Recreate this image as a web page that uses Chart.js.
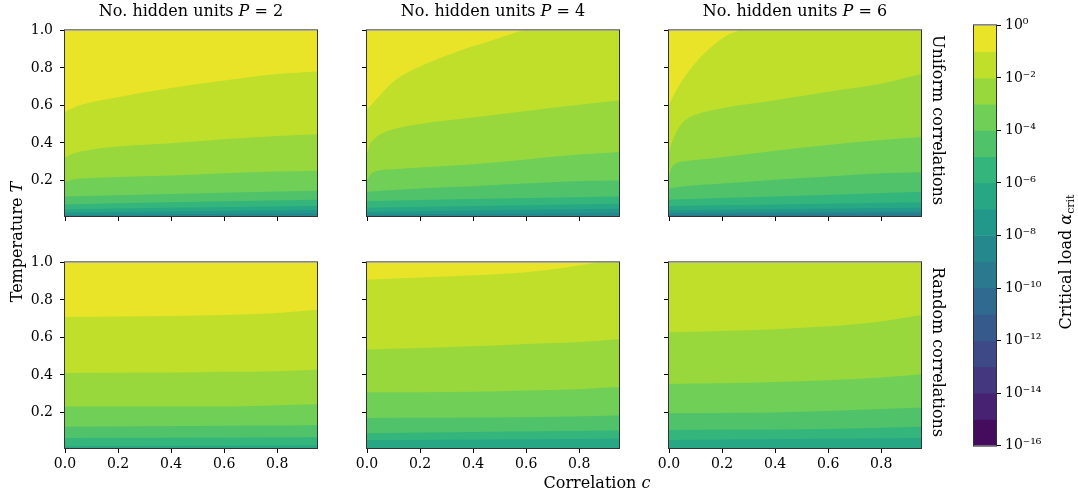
<!DOCTYPE html>
<html>
<head>
<meta charset="utf-8">
<script src="https://cdn.jsdelivr.net/npm/chart.js@4.4.1/dist/chart.umd.min.js"></script>
<style>
html, body { margin: 0; padding: 0; background: #fff; }
#fig { position: relative; width: 1078px; height: 498px; overflow: hidden;
       font-family: 'DejaVu Serif', serif; font-size: 16px; color: #000; }
canvas { position: absolute; }
.lbl { position: absolute; white-space: nowrap; text-align: center; line-height: 20px; height: 20px; }
.lbl sub { font-size: 11px; vertical-align: -3px; line-height: 0; }
</style>
</head>
<body>
<div id="fig"></div>
<script>
// axes
const cTicks = [0, 0.2, 0.4, 0.6, 0.8];
const tTicks = [0.2, 0.4, 0.6, 0.8, 1.0];
const cRange = [0, 0.95];
const tRange = [0.01, 1.0];
const hiddenUnits = [2, 4, 6];
const rowNames = ['Uniform correlations', 'Random correlations'];

// colorbar: decade edges of alpha_crit (exponents) and labelled ticks
const cbEdges = [0, -1, -2, -3, -4, -5, -6, -7, -8, -9, -10, -11, -12, -13, -14, -15, -16];
const cbTicks = [0, -2, -4, -6, -8, -10, -12, -14, -16];

// contour boundaries [c, T], from the 1e-1 line downwards
const uniformP2 = [
  [[0, 0.565], [0.05, 0.598], [0.2, 0.644], [0.4, 0.693], [0.6, 0.733], [0.8, 0.767], [0.95, 0.781]],
  [[0, 0.321], [0.03, 0.343], [0.08, 0.360], [0.2, 0.381], [0.4, 0.398], [0.6, 0.420], [0.8, 0.437], [0.95, 0.446]],
  [[0, 0.192], [0.03, 0.205], [0.1, 0.213], [0.2, 0.218], [0.4, 0.226], [0.6, 0.238], [0.8, 0.247], [0.95, 0.252]],
  [[0, 0.114], [0.4, 0.128], [0.95, 0.145]],
  [[0, 0.0715], [0.4, 0.083], [0.95, 0.097]],
  [[0, 0.046], [0.95, 0.063]],
  [[0, 0.0285], [0.95, 0.042]],
  [[0, 0.0165], [0.95, 0.025]]
];
const uniformP4 = [
  [[0, 0.578], [0.105, 0.733], [0.232, 0.828], [0.358, 0.896], [0.485, 0.953], [0.573, 0.994], [0.7, 1.04], [0.95, 1.1]],
  [[0, 0.338], [0.01, 0.389], [0.03, 0.425], [0.054, 0.449], [0.105, 0.475], [0.2, 0.501], [0.4, 0.535], [0.6, 0.570], [0.8, 0.604], [0.95, 0.626]],
  [[0, 0.200], [0.015, 0.235], [0.04, 0.252], [0.1, 0.260], [0.2, 0.269], [0.4, 0.286], [0.6, 0.312], [0.8, 0.338], [0.95, 0.352]],
  [[0, 0.140], [0.2, 0.157], [0.4, 0.169], [0.6, 0.183], [0.8, 0.197], [0.95, 0.200]],
  [[0, 0.0887], [0.4, 0.101], [0.95, 0.114]],
  [[0, 0.054], [0.95, 0.075]],
  [[0, 0.032], [0.95, 0.049]],
  [[0, 0.018], [0.95, 0.028]]
];
const uniformP6 = [
  [[0, 0.604], [0.042, 0.716], [0.105, 0.836], [0.168, 0.922], [0.219, 0.974], [0.257, 0.996], [0.35, 1.05], [0.95, 1.3]],
  [[0, 0.355], [0.008, 0.390], [0.02, 0.435], [0.042, 0.492], [0.07, 0.530], [0.105, 0.553], [0.2, 0.585], [0.4, 0.627], [0.6, 0.673], [0.8, 0.716], [0.95, 0.767]],
  [[0, 0.218], [0.008, 0.262], [0.025, 0.290], [0.06, 0.302], [0.12, 0.312], [0.2, 0.324], [0.4, 0.358], [0.6, 0.389], [0.8, 0.415], [0.95, 0.432]],
  [[0, 0.157], [0.05, 0.168], [0.2, 0.183], [0.4, 0.204], [0.6, 0.221], [0.8, 0.238], [0.95, 0.243]],
  [[0, 0.097], [0.4, 0.114], [0.95, 0.140]],
  [[0, 0.063], [0.95, 0.083]],
  [[0, 0.041], [0.95, 0.054]],
  [[0, 0.027], [0.95, 0.034]],
  [[0, 0.016], [0.95, 0.023]]
];
const randomP2 = [
  [[0, 0.709], [0.2, 0.711], [0.4, 0.714], [0.6, 0.719], [0.8, 0.730], [0.95, 0.747]],
  [[0, 0.410], [0.4, 0.413], [0.6, 0.417], [0.8, 0.420], [0.95, 0.429]],
  [[0, 0.231], [0.6, 0.231], [0.8, 0.238], [0.95, 0.243]],
  [[0, 0.123], [0.95, 0.132]],
  [[0, 0.063], [0.95, 0.068]],
  [[0, 0.020], [0.95, 0.025]]
];
const randomP4 = [
  [[0, 0.908], [0.2, 0.919], [0.4, 0.931], [0.6, 0.948], [0.736, 0.970], [0.849, 0.996], [0.95, 1.02]],
  [[0, 0.536], [0.2, 0.544], [0.4, 0.553], [0.6, 0.565], [0.8, 0.575], [0.95, 0.592]],
  [[0, 0.307], [0.4, 0.310], [0.6, 0.317], [0.8, 0.324], [0.95, 0.335]],
  [[0, 0.170], [0.6, 0.174], [0.95, 0.183]],
  [[0, 0.089], [0.95, 0.103]],
  [[0, 0.051], [0.95, 0.060]]
];
// P=6 random never reaches 1e-1, so it starts at the 1e-2 line
const randomP6 = [
  [[0, 0.627], [0.2, 0.634], [0.4, 0.644], [0.6, 0.659], [0.8, 0.685], [0.95, 0.719]],
  [[0, 0.352], [0.2, 0.355], [0.4, 0.362], [0.6, 0.372], [0.8, 0.386], [0.95, 0.403]],
  [[0, 0.195], [0.4, 0.200], [0.6, 0.207], [0.8, 0.218], [0.95, 0.226]],
  [[0, 0.106], [0.6, 0.111], [0.95, 0.123]],
  [[0, 0.053], [0.95, 0.063]]
];
const panelCurves = [uniformP2, uniformP4, uniformP6, randomP2, randomP4, randomP6];
const panelTopBand = [0, 0, 0, 0, 0, 1];

// ---- style / layout ----
const colLeft = [65, 367, 669];
const rowTop = [23, 255];
const PW = 252, PH = 193;
const PADL = 60, PADT = 8, PADR = 8, PADB = 32;

const VIR = [[68,1,84],[72,40,120],[62,74,137],[49,104,142],[38,130,142],
             [31,158,137],[53,183,121],[110,206,88],[181,222,43],[253,231,37]];
function viridis(v) {
  const p = v * 9, i = Math.min(8, Math.floor(p)), t = p - i;
  const a = VIR[i], b = VIR[i + 1];
  return 'rgb(' + a.map((x, k) => Math.round(x + (b[k] - x) * t)).join(',') + ')';
}
// band 0 = [1e-1, 1e0] ... band 15 = [1e-16, 1e-15]
function bandColor(j) { return viridis((15 - j + 0.5) / 16); }

Chart.defaults.font.family = "'DejaVu Serif', serif";
Chart.defaults.font.size = 14;
Chart.defaults.color = '#000';

const framePlugin = {
  id: 'frame',
  afterDraw(chart) {
    const { ctx, chartArea: a } = chart;
    ctx.save();
    ctx.strokeStyle = '#333';
    ctx.lineWidth = 1;
    ctx.strokeRect(a.left - 0.5, a.top - 0.5, a.right - a.left + 1, a.bottom - a.top + 1);
    ctx.restore();
  }
};

const fig = document.getElementById('fig');

function addCanvas(left, top, w, h) {
  const cv = document.createElement('canvas');
  cv.width = w; cv.height = h;
  cv.style.left = left + 'px'; cv.style.top = top + 'px';
  cv.style.width = w + 'px'; cv.style.height = h + 'px';
  fig.appendChild(cv);
  return cv;
}

function addLabel(html, cx, cy, w, rot) {
  const d = document.createElement('div');
  d.className = 'lbl';
  d.innerHTML = html;
  d.style.width = w + 'px';
  d.style.left = (cx - w / 2) + 'px';
  d.style.top = (cy - 10) + 'px';
  if (rot) d.style.transform = 'rotate(' + rot + 'deg)';
  fig.appendChild(d);
}

function tickGrid() {
  return { display: true, drawOnChartArea: false, drawTicks: true, tickLength: 5, color: '#000', lineWidth: 1 };
}

function makePanel(idx) {
  const row = Math.floor(idx / 3), col = idx % 3;
  const curves = panelCurves[idx], top = panelTopBand[idx];
  const cv = addCanvas(colLeft[col] - PADL, rowTop[row] - PADT, PW + PADL + PADR, PH + PADT + PADB);

  // lowest line first: Chart.js paints dataset 0 last, so the lower fills sit on top
  const datasets = [];
  for (let k = curves.length - 1; k >= 0; k--) {
    datasets.push({
      data: curves[k].map(p => ({ x: p[0], y: p[1] })),
      backgroundColor: bandColor(top + k + 1),
      fill: 'start'
    });
  }
  datasets.push({
    data: [{ x: cRange[0], y: tRange[1] }, { x: cRange[1], y: tRange[1] }],
    backgroundColor: bandColor(top),
    fill: 'start'
  });
  datasets.forEach(d => {
    d.borderWidth = 0; d.borderColor = 'rgba(0,0,0,0)';
    d.pointRadius = 0; d.cubicInterpolationMode = 'monotone';
  });

  new Chart(cv, {
    type: 'line',
    data: { datasets },
    options: {
      responsive: false, animation: false,
      layout: { padding: { left: 0, top: PADT, right: PADR, bottom: 0 } },
      plugins: { legend: { display: false }, tooltip: { enabled: false } },
      scales: {
        x: {
          type: 'linear', min: cRange[0], max: cRange[1],
          afterBuildTicks: s => { s.ticks = cTicks.map(v => ({ value: v })); },
          afterFit: s => { s.height = PADB; },
          ticks: { callback: v => row === 1 ? v.toFixed(1) : '', padding: 3, maxRotation: 0 },
          grid: tickGrid(), border: { display: false }
        },
        y: {
          type: 'linear', min: tRange[0], max: tRange[1],
          afterBuildTicks: s => { s.ticks = tTicks.map(v => ({ value: v })); },
          afterFit: s => { s.width = PADL; },
          ticks: { callback: v => col === 0 ? v.toFixed(1) : '', padding: 7 },
          grid: tickGrid(), border: { display: false }
        }
      }
    },
    plugins: [framePlugin]
  });
}

for (let i = 0; i < 6; i++) makePanel(i);

// colorbar
const SUP = { '0': '⁰', '1': '¹', '2': '²', '3': '³', '4': '⁴', '5': '⁵', '6': '⁶', '7': '⁷', '8': '⁸', '9': '⁹', '-': '⁻' };
const cbLeft = 974, cbW = 22, cbTop = 23, cbH = 425;
const cbCv = addCanvas(cbLeft - 4, cbTop - 10, 4 + cbW + 64, cbH + 20);
new Chart(cbCv, {
  type: 'bar',
  data: {
    labels: [''],
    datasets: cbEdges.slice(0, -1).map((e, i) => ({
      data: [[cbEdges[i + 1], e]],
      backgroundColor: bandColor(i),
      borderWidth: 0, borderSkipped: false,
      barPercentage: 1, categoryPercentage: 1
    }))
  },
  options: {
    responsive: false, animation: false,
    layout: { padding: { left: 4, top: 10, bottom: 10, right: 0 } },
    plugins: { legend: { display: false }, tooltip: { enabled: false } },
    scales: {
      x: { display: false, stacked: true },
      y: {
        position: 'right', min: -16, max: 0,
        afterBuildTicks: s => { s.ticks = cbTicks.map(v => ({ value: v })); },
        afterFit: s => { s.width = 64; },
        ticks: { callback: v => '10' + String(v).split('').map(ch => SUP[ch]).join(''), padding: 4 },
        grid: tickGrid(), border: { display: false }
      }
    }
  },
  plugins: [framePlugin]
});

// text
hiddenUnits.forEach((p, i) => {
  addLabel('No. hidden units <i>P</i> = ' + p, colLeft[i] + PW / 2, 11, 260, 0);
});
addLabel(rowNames[0], 938, rowTop[0] + PH / 2, 230, 90);
addLabel(rowNames[1], 938, rowTop[1] + PH / 2, 230, 90);
addLabel('Temperature <i>T</i>', 17, 242, 170, -90);
addLabel('Correlation <i>c</i>', 597, 483, 170, 0);
addLabel('Critical load <i>α</i><sub>crit</sub>', 1066, 262, 220, -90);
</script>
</body>
</html>
